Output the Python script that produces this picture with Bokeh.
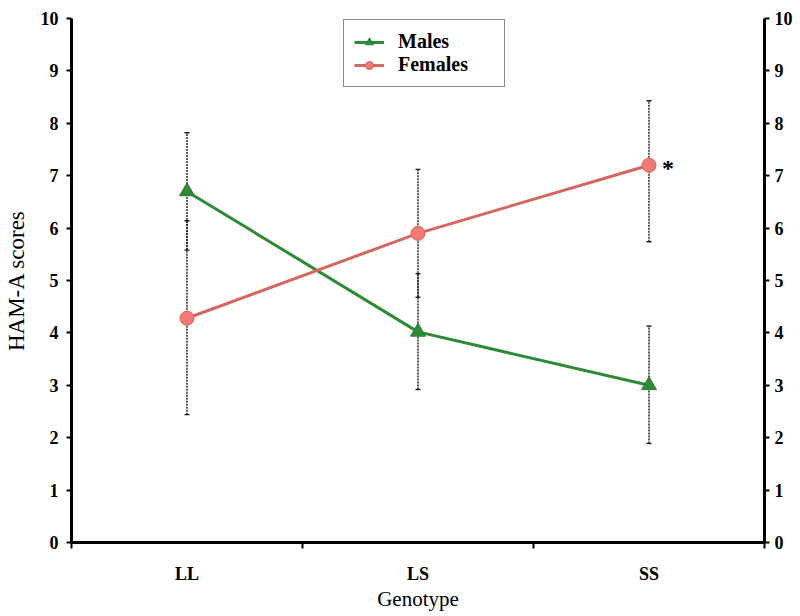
from bokeh.plotting import figure
from bokeh.models import (ColumnDataSource, Whisker, TeeHead, FixedTicker, LinearAxis,
                          Range1d, Legend, LegendItem)
from bokeh.core.properties import value
from bokeh.embed import file_html
from bokeh.resources import INLINE

categories = ["LL", "LS", "SS"]
males = [6.70, 4.02, 3.00]
males_lower = [5.58, 2.92, 1.89]
males_upper = [7.82, 5.13, 4.13]
females = [4.28, 5.90, 7.20]
females_lower = [2.44, 4.68, 5.74]
females_upper = [6.14, 7.12, 8.43]
y_ticks = list(range(0, 11))
significance = ["", "", "*"]

xpos = [i + 0.5 for i in range(len(categories))]

FONT = "Liberation Serif"
GREEN = "#2f8a38"
RED = "#d4675f"

p = figure(width=800, height=616, output_backend="svg", toolbar_location=None,
           x_range=Range1d(0, len(categories)), y_range=Range1d(0, 10),
           min_border_left=71, min_border_right=36, min_border_top=18, min_border_bottom=74)
p.outline_line_color = None
p.xgrid.visible = False
p.ygrid.visible = False
p.background_fill_color = "white"

m_src = ColumnDataSource(dict(x=xpos, y=males, lo=males_lower, hi=males_upper))
f_src = ColumnDataSource(dict(x=xpos, y=females, lo=females_lower, hi=females_upper,
                              sig=significance))

for src in (m_src, f_src):
    w = Whisker(source=src, base="x", lower="lo", upper="hi",
                line_color="#1a1a1a", line_width=1.4, line_dash="2 1",
                lower_head=TeeHead(size=5, line_color="#1a1a1a", line_width=1.4),
                upper_head=TeeHead(size=5, line_color="#1a1a1a", line_width=1.4))
    p.add_layout(w)

ml = p.line("x", "y", source=m_src, line_color=GREEN, line_width=3)
fl = p.line("x", "y", source=f_src, line_color=RED, line_width=3)
ms = p.scatter("x", "y", source=m_src, marker="triangle", size=15,
               fill_color=GREEN, line_color="#2a7d33", line_width=1)
fs = p.scatter("x", "y", source=f_src, marker="circle", size=14,
               fill_color="#f07a75", line_color="#d9625b", line_width=1)

p.text("x", "y", text="sig", source=f_src, x_offset=13, y_offset=3,
       text_font=value(FONT), text_font_style="bold", text_font_size="24px",
       text_color="black", text_baseline="middle", text_align="left")

# axes
xa = p.xaxis[0]
xa.ticker = FixedTicker(ticks=xpos, minor_ticks=list(range(len(categories) + 1)))
xa.major_label_overrides = {x: c for x, c in zip(xpos, categories)}
xa.major_tick_out = 0
xa.major_tick_in = 0
xa.minor_tick_out = 6
xa.minor_tick_in = 0
xa.minor_tick_line_width = 2
xa.minor_tick_line_color = "black"
xa.axis_line_width = 3
xa.axis_line_color = "black"
xa.axis_label = "Genotype"
xa.axis_label_text_font = FONT
xa.axis_label_text_font_style = "normal"
xa.axis_label_text_font_size = "21px"
xa.axis_label_text_color = "black"
xa.axis_label_standoff = 0
xa.major_label_text_font = FONT
xa.major_label_text_font_style = "bold"
xa.major_label_text_font_size = "18px"
xa.major_label_text_color = "black"
xa.major_label_standoff = 15

ya = p.yaxis[0]
ya.ticker = FixedTicker(ticks=y_ticks)
ya.minor_tick_line_color = None
ya.major_tick_out = 5
ya.major_tick_in = 0
ya.major_tick_line_width = 2
ya.major_tick_line_color = "black"
ya.axis_line_width = 3
ya.axis_line_color = "black"
ya.axis_label = "HAM-A scores"
ya.axis_label_text_font = FONT
ya.axis_label_text_font_style = "normal"
ya.axis_label_text_font_size = "23px"
ya.axis_label_text_color = "black"
ya.axis_label_standoff = 9
ya.major_label_text_font = FONT
ya.major_label_text_font_style = "bold"
ya.major_label_text_font_size = "18px"
ya.major_label_text_color = "black"
ya.major_label_standoff = 8

ra = LinearAxis(ticker=FixedTicker(ticks=y_ticks))
ra.minor_tick_line_color = None
ra.major_tick_out = 5
ra.major_tick_in = 0
ra.major_tick_line_width = 2
ra.major_tick_line_color = "black"
ra.axis_line_width = 3
ra.axis_line_color = "black"
ra.major_label_text_font = FONT
ra.major_label_text_font_style = "bold"
ra.major_label_text_font_size = "18px"
ra.major_label_text_color = "black"
ra.major_label_standoff = 5
p.add_layout(ra, "right")

legend = Legend(items=[LegendItem(label="Males", renderers=[ml, ms]),
                       LegendItem(label="Females", renderers=[fl, fs])],
                location=(272, 455), padding=10, spacing=-2,
                glyph_width=30, glyph_height=20, label_height=20, label_width=96,
                label_standoff=14, margin=0,
                label_text_font=FONT, label_text_font_style="bold",
                label_text_font_size="20px", label_text_color="black",
                border_line_color="#111111", border_line_width=1.5,
                background_fill_color="white", background_fill_alpha=1)
p.add_layout(legend, "center")

open("out.html", "w").write(file_html(p, INLINE))
